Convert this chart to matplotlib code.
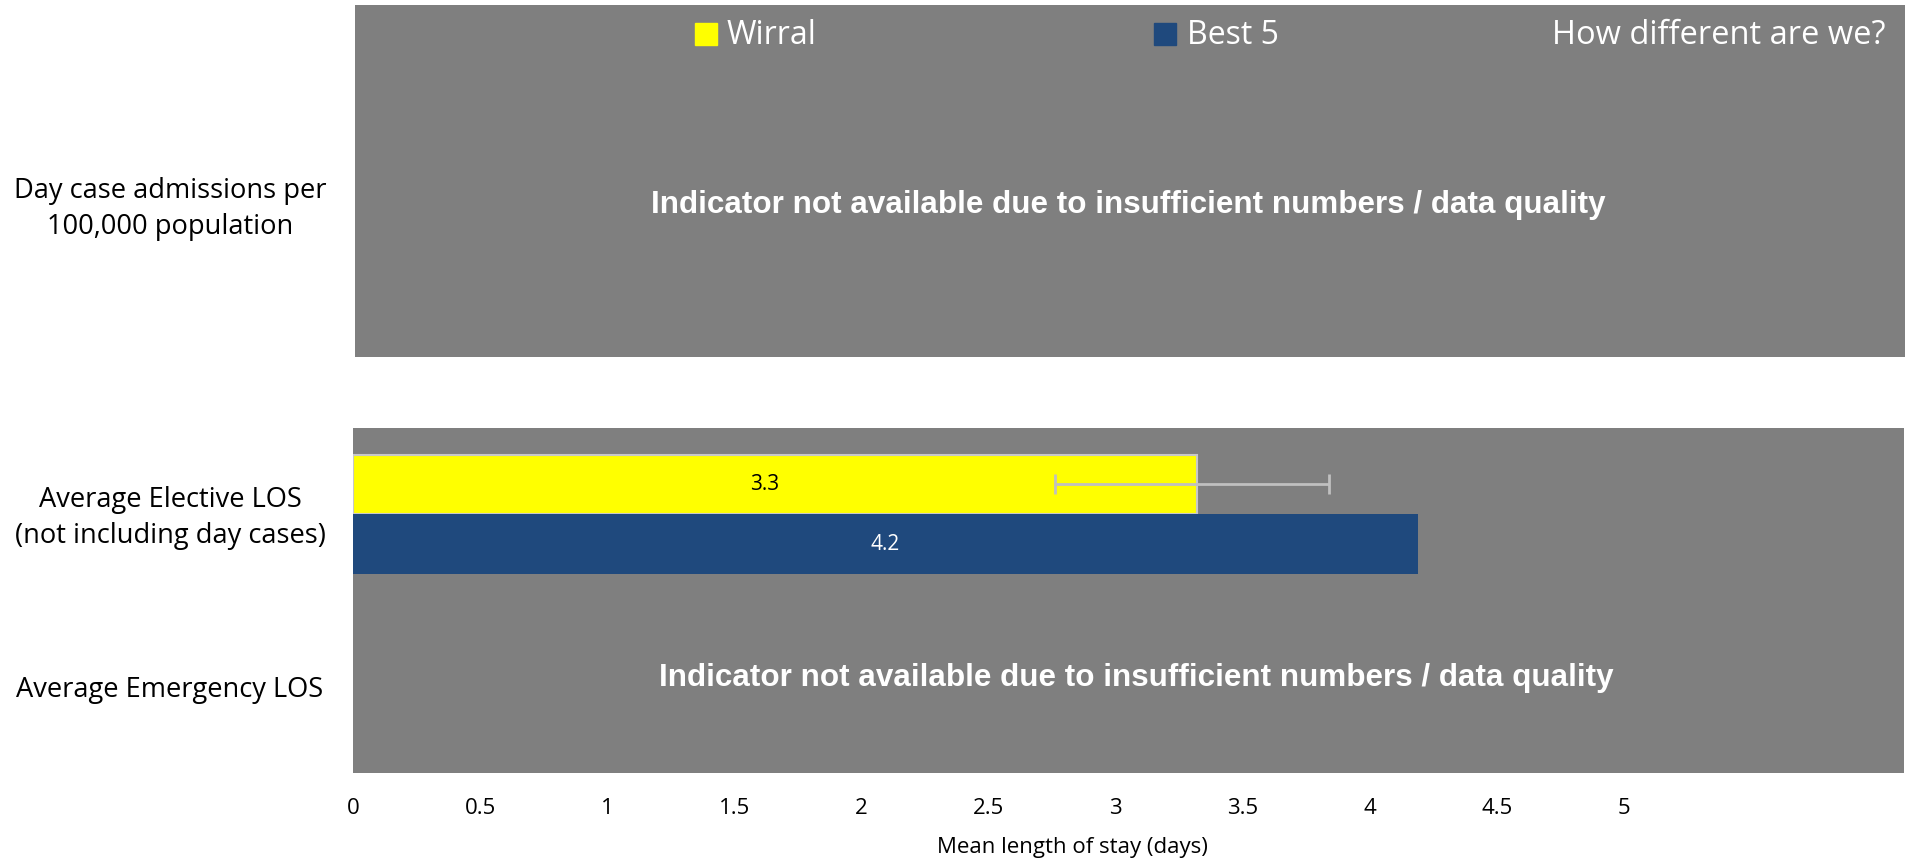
import matplotlib
matplotlib.use("Agg")
import matplotlib.pyplot as plt
import numpy as np

# ---- data ----
categories = ["Day case admissions per\n100,000 population",
              "Average Elective LOS\n(not including day cases)",
              "Average Emergency LOS"]
series_names = ["Wirral", "Best 5"]
wirral_value = 3.32
best5_value = 4.19
wirral_ci_low = 2.76
wirral_ci_high = 3.84
x_ticks = [0, 0.5, 1, 1.5, 2, 2.5, 3, 3.5, 4, 4.5, 5]
x_tick_labels = ["0", "0.5", "1", "1.5", "2", "2.5", "3", "3.5", "4", "4.5", "5"]
na_message = "Indicator not available due to insufficient numbers / data quality"
x_label = "Mean length of stay (days)"
header_text = "How different are we?"

GREY = "#7f7f7f"
YELLOW = "#ffff00"
BLUE = "#1f497d"
W, H = 1909, 861

plt.rcParams['font.family'] = ['Open Sans', 'DejaVu Sans']
fig = plt.figure(figsize=(W / 100, H / 100), dpi=100)

def rect(x0, y0, x1, y1):
    return [x0 / W, 1 - y1 / H, (x1 - x0) / W, (y1 - y0) / H]

# top panel (not-available indicator + legend)
ax_top = fig.add_axes(rect(355, 5, 1905, 357))
ax_top.set_facecolor(GREY)
ax_top.set_xticks([]); ax_top.set_yticks([])
for s in ax_top.spines.values():
    s.set_visible(False)

# bottom panel with bars
px_per_unit = 254.2
ax = fig.add_axes(rect(353, 428, 1904, 773))
ax.set_facecolor(GREY)
for s in ax.spines.values():
    s.set_visible(False)
xmax = (1904 - 353) / px_per_unit
ax.set_xlim(0, xmax)
ax.set_ylim(2, 0)

bar_h = 0.345
ax.barh(0.5 - bar_h / 2, wirral_value, height=bar_h, color=YELLOW,
        edgecolor="#c8c8c8", linewidth=1.5, zorder=2)
ax.barh(0.5 + bar_h / 2, best5_value, height=bar_h, color=BLUE,
        edgecolor=BLUE, linewidth=0, zorder=2)
ax.errorbar([wirral_value], [0.5 - bar_h / 2],
            xerr=[[wirral_value - wirral_ci_low], [wirral_ci_high - wirral_value]],
            fmt='none', ecolor="#c0c0c0", elinewidth=2, capsize=7, capthick=2, zorder=3)
ax.text(wirral_value / 2 - 0.04, 0.5 - bar_h / 2, f"{wirral_value:.1f}", ha='center', va='center',
        fontsize=15, color='black', zorder=4)
ax.text(best5_value / 2, 0.5 + bar_h / 2, f"{best5_value:.1f}", ha='center', va='center',
        fontsize=15, color='white', zorder=4)

ax.set_xticks(x_ticks)
ax.set_xticklabels(x_tick_labels, fontsize=16)
ax.tick_params(axis='x', length=0, pad=18)
ax.set_yticks([])
ax.set_xlabel(x_label, fontsize=16)
ax.xaxis.set_label_coords(2.83 / xmax, -0.185)

# not available messages
fig.text(1128 / W, 1 - 205 / H, na_message, ha='center', va='center', color='white',
         fontsize=22.6, fontweight='bold', family='Liberation Sans')
fig.text(1136 / W, 1 - 678 / H, na_message, ha='center', va='center', color='white',
         fontsize=22.6, fontweight='bold', family='Liberation Sans')

# legend-like header
fig.patches.append(plt.Rectangle((695 / W, 1 - 45 / H), 22 / W, 22 / H,
                                 transform=fig.transFigure, color=YELLOW, zorder=5))
fig.text(727 / W, 1 - 36 / H, series_names[0], ha='left', va='center', color='white', fontsize=23)
fig.patches.append(plt.Rectangle((1154 / W, 1 - 45 / H), 22 / W, 22 / H,
                                 transform=fig.transFigure, color=BLUE, zorder=5))
fig.text(1187 / W, 1 - 36 / H, series_names[1], ha='left', va='center', color='white', fontsize=23)
fig.text(1885 / W, 1 - 36 / H, header_text, ha='right', va='center', color='white', fontsize=23.5)

# category labels
cat_y = [209, 518, 690]
for lab, y in zip(categories, cat_y):
    fig.text(170 / W, 1 - y / H, lab, ha='center', va='center', fontsize=19.6,
             linespacing=1.38, color='black')

fig.savefig("out.png", dpi=100)
